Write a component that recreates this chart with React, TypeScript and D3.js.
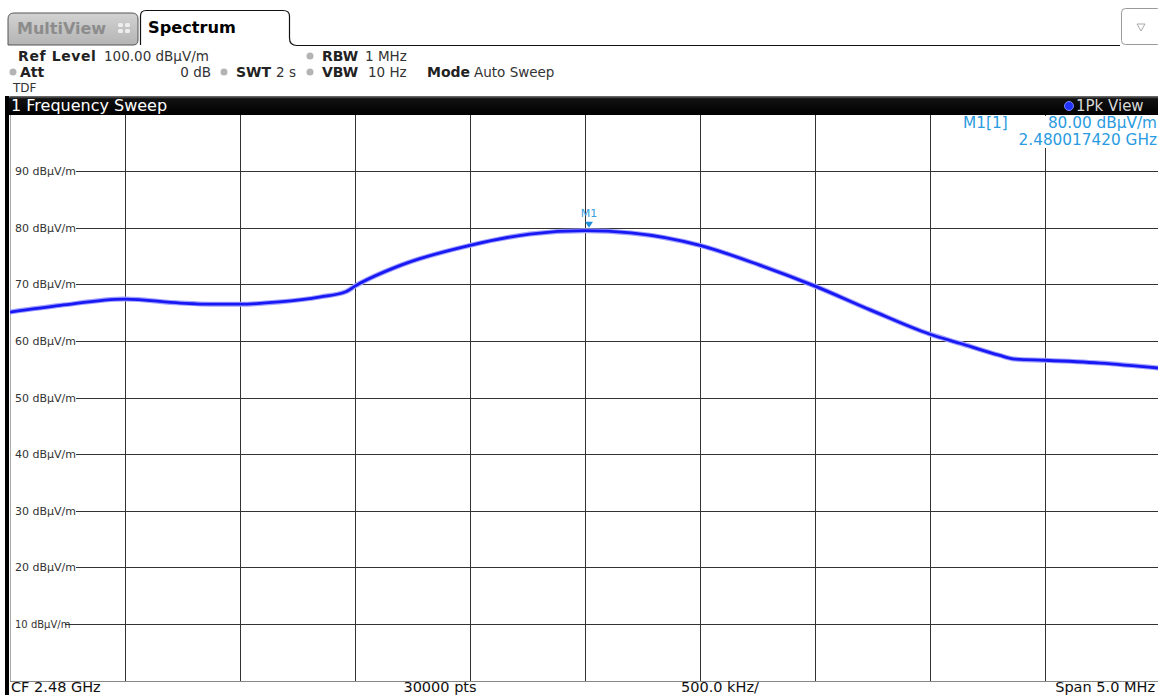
import React from "react";
import * as d3 from "d3";

// ---- Data ----
const centerFreqMHz = 2480;
const spanMHz = 5;
const levelTicks = [10, 20, 30, 40, 50, 60, 70, 80, 90];
const traceFreqMHz = [
  2477.5, 2477.72, 2478.0, 2478.24, 2478.37, 2478.5, 2478.67, 2478.85, 2478.96,
  2479.0, 2479.2, 2479.5, 2479.76, 2480.0, 2480.2, 2480.5, 2480.76, 2481.0,
  2481.24, 2481.5, 2481.63, 2481.8, 2481.87, 2482.0, 2482.24, 2482.5,
];
const traceLevel = [
  65.1, 66.3, 67.4, 66.7, 66.5, 66.5, 66.9, 67.8, 68.7,
  69.7, 73.4, 76.9, 78.9, 79.5, 79.1, 76.9, 73.4, 69.7,
  65.5, 61.2, 59.6, 57.5, 56.8, 56.6, 56.1, 55.2,
];
const markerFreqMHz = 2480.01742;
const markerLevel = 80.0;

const W = 1158;
const H = 695;
const FONT = "'DejaVu Sans', Verdana, sans-serif";

export default function App() {
  const x = d3
    .scaleLinear()
    .domain([centerFreqMHz - spanMHz / 2, centerFreqMHz + spanMHz / 2])
    .range([10, 1160]);
  const y = d3.scaleLinear().domain([0, 100]).range([680.6, 114.6]);

  const line = d3
    .line<number>()
    .x((_, i) => x(traceFreqMHz[i]))
    .y((d) => y(d))
    .curve(d3.curveMonotoneX);
  const tracePath = line(traceLevel) || "";

  const vTicks = d3.range(1, 10).map((i) => centerFreqMHz - spanMHz / 2 + i * (spanMHz / 10));
  const mx = x(markerFreqMHz);
  const my = y(markerLevel);

  const dot = (cx: number, cy: number) => (
    <circle cx={cx} cy={cy} r={3.5} fill="#b4b4b4" />
  );

  return (
    <svg
      width={W}
      height={H}
      style={{ position: "fixed", left: 0, top: 0, display: "block", background: "#fff" }}
      fontFamily={FONT}
    >
      <defs>
        <linearGradient id="mvTab" x1="0" y1="0" x2="0" y2="1">
          <stop offset="0" stopColor="#d2d2d2" />
          <stop offset="1" stopColor="#b4b4b4" />
        </linearGradient>
        <linearGradient id="bar" x1="0" y1="0" x2="0" y2="1">
          <stop offset="0" stopColor="#777" />
          <stop offset="0.15" stopColor="#111" />
          <stop offset="1" stopColor="#000" />
        </linearGradient>
        <clipPath id="plotClip">
          <rect x={10} y={115} width={1150} height={567} />
        </clipPath>
      </defs>
      <rect x={0} y={0} width={W} height={H} fill="#fff" />

      {/* Tabs */}
      <path
        d="M8,45 L8,19 Q8,13 14,13 L132,13 Q138,13 138,19 L138,40 Q138,45 133,45 Z"
        fill="url(#mvTab)"
        stroke="#555"
        strokeWidth={1}
      />
      <text x={17} y={34} fontSize={16} fontWeight="bold" fill="#8c8c8c">
        MultiView
      </text>
      <g fill="#eee">
        <rect x={118} y={23} width={5} height={4} rx={1.5} />
        <rect x={125} y={23} width={5} height={4} rx={1.5} />
        <rect x={118} y={29} width={5} height={4} rx={1.5} />
        <rect x={125} y={29} width={5} height={4} rx={1.5} />
      </g>
      <path
        d="M140.5,45 L140.5,16 Q140.5,10.5 146,10.5 L283,10.5 Q289.5,10.5 289.5,16 L289.5,38 Q289.5,45.5 297,45.5 L1120,45.5"
        fill="#fff"
        stroke="#111"
        strokeWidth={1.2}
      />
      <text x={148} y={33} fontSize={16.2} fontWeight="bold" fill="#000">
        Spectrum
      </text>
      <rect x={1121.5} y={8.5} width={40} height={36} rx={4} fill="#fff" stroke="#999" />
      <path d="M1137,24 L1145,24 L1141,31 Z" fill="none" stroke="#aaa" strokeWidth={1} />

      {/* Info lines */}
      <g fontSize={13.5} fill="#333">
        <text x={18} y={61} fontWeight="bold" fill="#222" fontSize={14} letterSpacing={0.6}>Ref Level</text>
        <text x={104} y={61}>100.00 dBµV/m</text>
        {dot(310, 56)}
        <text x={322} y={61} fontWeight="bold" fill="#222" fontSize={14}>RBW</text>
        <text x={365} y={61}>1 MHz</text>

        {dot(13, 72)}
        <text x={20} y={77} fontWeight="bold" fill="#222" fontSize={14}>Att</text>
        <text x={211} y={77} textAnchor="end">0 dB</text>
        {dot(224, 72)}
        <text x={236} y={77} fontWeight="bold" fill="#222" fontSize={14}>SWT</text>
        <text x={276} y={77}>2 s</text>
        {dot(310, 72)}
        <text x={322} y={77} fontWeight="bold" fill="#222" fontSize={14}>VBW</text>
        <text x={368} y={77}>10 Hz</text>
        <text x={427} y={77} fontWeight="bold" fill="#222" fontSize={14}>Mode</text>
        <text x={474} y={77}>Auto Sweep</text>
        <text x={13} y={92} fontSize={12}>TDF</text>
      </g>

      {/* Header bar */}
      <path d="M8,115 L8,99 Q8,96 11,96 L1158,96 L1158,115 Z" fill="url(#bar)" />
      <text x={11} y={111} fontSize={16} fill="#fff">1 Frequency Sweep</text>
      <circle cx={1069} cy={106} r={4.5} fill="#2233ff" stroke="#7788ff" strokeWidth={1} />
      <text x={1076} y={111} fontSize={15} fill="#d8d8d8">1Pk View</text>

      {/* Left thick bar */}
      <rect x={5} y={96} width={4} height={H - 96} fill="#000" />

      {/* Grid */}
      <g stroke="#333" strokeWidth={1} clipPath="url(#plotClip)">
        {vTicks.map((f) => (
          <line key={f} x1={Math.round(x(f)) + 0.5} x2={Math.round(x(f)) + 0.5} y1={115} y2={681} />
        ))}
        {levelTicks.map((v) => (
          <line
            key={v}
            x1={v === 10 ? 65 : 76}
            x2={1160}
            y1={Math.round(y(v)) + 0.5}
            y2={Math.round(y(v)) + 0.5}
          />
        ))}
      </g>
      <line x1={10.5} x2={10.5} y1={115} y2={681} stroke="#aaa" />
      <line x1={10} x2={1160} y1={681.5} y2={681.5} stroke="#888" />

      {/* Y labels */}
      <g fill="#333">
        {levelTicks.map((v) => (
          <text key={v} x={15} y={Math.round(y(v)) + 4} fontSize={v === 10 ? 10 : 11}>
            {v} dBµV/m
          </text>
        ))}
      </g>

      {/* Trace */}
      <g clipPath="url(#plotClip)" fill="none" strokeLinejoin="round">
        <path d={tracePath} stroke="#a0a0ff" strokeWidth={5} />
        <path d={tracePath} stroke="#1818f4" strokeWidth={2.8} />
      </g>

      {/* Marker */}
      <path d={`M${mx - 4},${my - 6} L${mx + 4},${my - 6} L${mx},${my} Z`} fill="#1e90d8" />
      <text x={mx} y={217} fontSize={11} textAnchor="middle" fill="#3aa0e0">M1</text>

      {/* Marker readout */}
      <rect x={950} y={116} width={210} height={32} fill="#fff" />
      <g fontSize={15.3} fill="#2a9be0">
        <text x={963} y={128}>M1[1]</text>
        <text x={1157} y={128} textAnchor="end">80.00 dBµV/m</text>
        <text x={1157} y={145} textAnchor="end">2.480017420 GHz</text>
      </g>

      {/* Bottom annotations */}
      <g fontSize={14.5} fill="#111">
        <text x={11} y={692}>CF 2.48 GHz</text>
        <text x={440} y={692} textAnchor="middle">30000 pts</text>
        <text x={681} y={692}>500.0 kHz/</text>
        <text x={1155} y={692} textAnchor="end">Span 5.0 MHz</text>
      </g>
    </svg>
  );
}
